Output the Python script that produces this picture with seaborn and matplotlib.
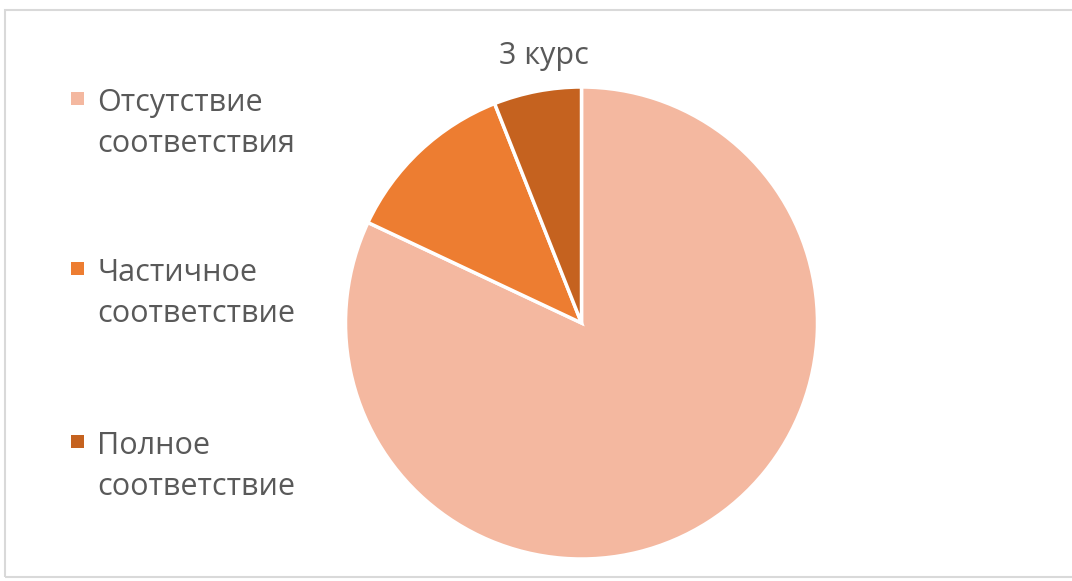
import matplotlib
matplotlib.use("Agg")
import matplotlib.pyplot as plt
from matplotlib.patches import Rectangle
import seaborn as sns

categories = ["Отсутствие соответствия", "Частичное соответствие", "Полное соответствие"]
legend_lines = [["Отсутствие", "соответствия"], ["Частичное", "соответствие"], ["Полное", "соответствие"]]
values = [82, 12, 6]
title = "3 курс"

sns.set_theme(style="white")
plt.rcParams['font.family'] = ['Open Sans', 'DejaVu Sans']
colors = sns.color_palette(["#F4B8A0", "#ED7D31", "#C5621F"])
text_color = "#595959"

fig = plt.figure(figsize=(10.72, 5.81), dpi=100)
fig.patch.set_facecolor("white")

# chart border
fig.patches.append(Rectangle((5 / 1072, 4 / 581), 1.05, 567 / 581, transform=fig.transFigure,
                             fill=False, edgecolor="#D9D9D9", linewidth=1.5))

ax = fig.add_axes([(581.5 - 236) / 1072, (258 - 236) / 581, 472 / 1072, 472 / 581])
ax.pie(values, colors=colors, startangle=90, counterclock=False, radius=1,
       wedgeprops=dict(edgecolor="white", linewidth=2.5))
ax.set_xlim(-1, 1)
ax.set_ylim(-1, 1)
ax.set_aspect("equal")
ax.axis("off")

fig.text(544 / 1072, 1 - 64 / 581, title, ha="center", va="baseline", fontsize=22, color=text_color)

baselines = [111, 281, 454]
for lines, col, b in zip(legend_lines, colors, baselines):
    fig.patches.append(Rectangle((71 / 1072, 1 - (b - 6) / 581), 13 / 1072, 13 / 581,
                                 transform=fig.transFigure, facecolor=col, edgecolor="none"))
    for i, line in enumerate(lines):
        fig.text(97 / 1072, 1 - (b + 41 * i) / 581, line, ha="left", va="baseline",
                 fontsize=22, color=text_color)

fig.savefig("out.png", dpi=100, facecolor="white")
